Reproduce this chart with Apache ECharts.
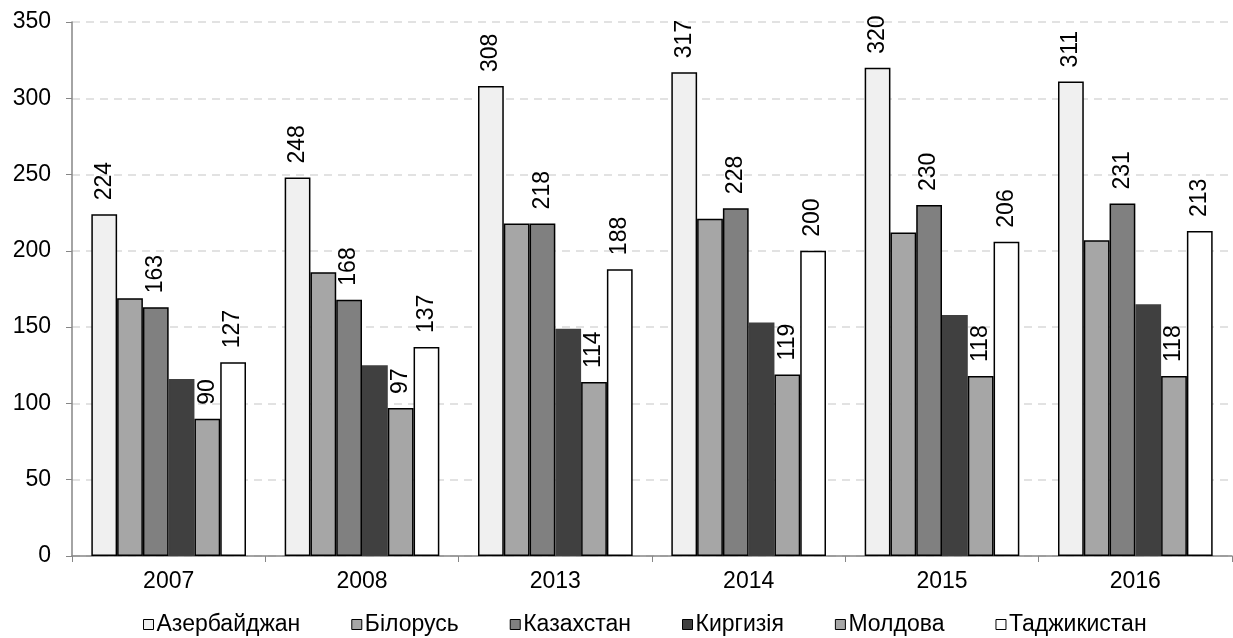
<!DOCTYPE html>
<html>
<head>
<meta charset="utf-8">
<script src="https://cdn.jsdelivr.net/npm/echarts@6/dist/echarts.min.js"></script>
<style>
html,body{margin:0;padding:0;background:#fff;}
#chart{width:1233px;height:638px;}
</style>
</head>
<body>
<div id="chart"></div>
<script>
const categories = ['2007', '2008', '2013', '2014', '2015', '2016'];
const seriesNames = ['Азербайджан', 'Білорусь', 'Казахстан', 'Киргизія', 'Молдова', 'Таджикистан'];
const azerbaijan = [224, 248, 308, 317, 320, 311];
const belarus = [169, 186, 218, 221, 212, 207];
const kazakhstan = [163, 168, 218, 228, 230, 231];
const kyrgyzstan = [116, 125, 149, 153, 158, 165];
const moldova = [90, 97, 114, 119, 118, 118];
const tajikistan = [127, 137, 188, 200, 206, 213];
const yTicks = [0, 50, 100, 150, 200, 250, 300, 350];

const seriesData = [azerbaijan, belarus, kazakhstan, kyrgyzstan, moldova, tajikistan];
const colors = ['#F0F0F0', '#A6A6A6', '#808080', '#404040', '#A6A6A6', '#FFFFFF'];
const borders = ['#000000', '#000000', '#000000', '#404040', '#000000', '#000000'];
const showLabel = [true, false, true, false, true, true];
const FONT = 'Liberation Sans, Arial, sans-serif';
const FS = 23;

const chart = echarts.init(document.getElementById('chart'), null, {renderer: 'canvas'});
chart.setOption({
  animation: false,
  backgroundColor: '#ffffff',
  grid: {left: 72, right: 1, top: 22, bottom: 82, containLabel: false},
  legend: {
    data: seriesNames,
    top: 608,
    left: 138,
    icon: 'rect',
    itemWidth: 10,
    itemHeight: 10,
    itemGap: 51,
    textStyle: {fontFamily: FONT, fontSize: FS, color: '#000', padding: [0, 0, 0, -2]},
    itemStyle: {borderColor: '#000', borderWidth: 1}
  },
  xAxis: {
    type: 'category',
    data: categories,
    axisLine: {lineStyle: {color: '#868686', width: 1.5}},
    axisTick: {show: true, alignWithLabel: false, length: 6, lineStyle: {color: '#868686'}},
    axisLabel: {fontFamily: FONT, fontSize: FS, color: '#000', margin: 14}
  },
  yAxis: {
    type: 'value',
    min: yTicks[0],
    max: yTicks[yTicks.length - 1],
    interval: 50,
    axisLine: {show: true, lineStyle: {color: '#868686', width: 1.5}},
    axisTick: {show: true, length: 6, lineStyle: {color: '#868686'}},
    axisLabel: {fontFamily: FONT, fontSize: FS, color: '#000', margin: 21},
    splitLine: {show: true, lineStyle: {color: '#D9D9D9', type: [8, 6], width: 1.5}}
  },
  series: seriesNames.map((name, i) => ({
    name: name,
    type: 'bar',
    data: seriesData[i],
    barGap: '0%',
    barCategoryGap: '20%',
    itemStyle: {color: colors[i], borderColor: borders[i], borderWidth: 1.5},
    label: {
      show: showLabel[i],
      position: 'top',
      rotate: 90,
      align: 'left',
      verticalAlign: 'middle',
      distance: 14,
      fontFamily: FONT,
      fontSize: FS,
      color: '#000'
    }
  }))
});
</script>
</body>
</html>
